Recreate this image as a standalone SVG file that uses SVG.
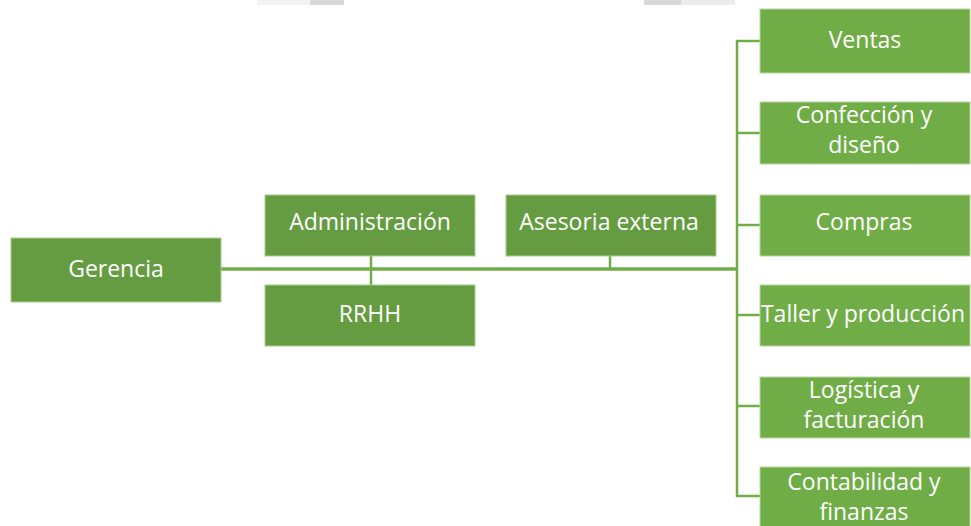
<svg xmlns="http://www.w3.org/2000/svg" width="971" height="526" viewBox="0 0 971 526">
<style>
.dk{fill:#669c41;stroke:#a9cc90;stroke-width:1}
.lt{fill:#70ad47;stroke:#b5d79d;stroke-width:1}
.t{fill:#ffffff;font-family:"Open Sans","Liberation Sans",sans-serif;font-size:23px;text-anchor:middle}
.c{stroke:#70ad47;fill:none}
</style>
<rect width="971" height="526" fill="#ffffff"/>
<g id="artifacts">
<rect x="257" y="0" width="53" height="5" fill="#f3f3f3"/>
<rect x="310" y="0" width="34" height="5" fill="#d9d9d9"/>
<rect x="644" y="0" width="37" height="5" fill="#d9d9d9"/>
<rect x="681" y="0" width="54" height="5" fill="#ececec"/>
</g>
<g id="connectors">
<line class="c" x1="221" y1="269" x2="738" y2="269" stroke-width="3.5"/>
<line class="c" x1="371" y1="256" x2="371" y2="285" stroke-width="2.5"/>
<line class="c" x1="610" y1="256" x2="610" y2="269" stroke-width="2.5"/>
<line class="c" x1="737" y1="40" x2="737" y2="497" stroke-width="2.5"/>
<line class="c" x1="736" y1="41" x2="760" y2="41" stroke-width="2.5"/>
<line class="c" x1="736" y1="133" x2="760" y2="133" stroke-width="2.5"/>
<line class="c" x1="736" y1="225" x2="760" y2="225" stroke-width="2.5"/>
<line class="c" x1="736" y1="315" x2="760" y2="315" stroke-width="2.5"/>
<line class="c" x1="736" y1="406" x2="760" y2="406" stroke-width="2.5"/>
<line class="c" x1="736" y1="496" x2="760" y2="496" stroke-width="2.5"/>
</g>
<g id="gerencia"><rect class="dk" x="11" y="238" width="210" height="64"/><text class="t" x="116" y="277">Gerencia</text></g>
<g id="administracion"><rect class="dk" x="265" y="195" width="210" height="61"/><text class="t" x="370" y="230">Administración</text></g>
<g id="asesoria"><rect class="dk" x="506" y="195" width="210" height="61"/><text class="t" x="609" y="230">Asesoria externa</text></g>
<g id="rrhh"><rect class="dk" x="265" y="285" width="210" height="61"/><text class="t" x="370" y="322">RRHH</text></g>
<g id="ventas"><rect class="lt" x="760" y="9" width="210" height="64"/><text class="t" x="865" y="48">Ventas</text></g>
<g id="confeccion"><rect class="lt" x="760" y="102" width="210" height="62"/><text class="t" x="864" y="123">Confección y</text><text class="t" x="864" y="153">diseño</text></g>
<g id="compras"><rect class="lt" x="760" y="195" width="210" height="61"/><text class="t" x="864" y="230">Compras</text></g>
<g id="taller"><rect class="lt" x="760" y="285" width="210" height="61"/><text class="t" x="863" y="322">Taller y producción</text></g>
<g id="logistica"><rect class="lt" x="760" y="377" width="210" height="61"/><text class="t" x="864" y="398">Logística y</text><text class="t" x="864" y="428">facturación</text></g>
<g id="contabilidad"><rect class="lt" x="760" y="467" width="210" height="62"/><text class="t" x="864" y="490">Contabilidad y</text><text class="t" x="864" y="520">finanzas</text></g>
</svg>
